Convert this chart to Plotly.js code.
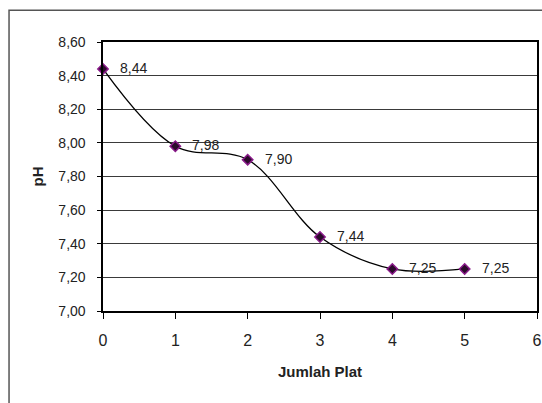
<!DOCTYPE html>
<html>
<head>
<meta charset="utf-8">
<script src="https://cdn.plot.ly/plotly-3.0.1.min.js"></script>
<style>
html,body{margin:0;padding:0;background:#fff;}
#chart{width:542px;height:403px;}
</style>
</head>
<body>
<div id="chart"></div>
<script>
const jumlahPlat = [0, 1, 2, 3, 4, 5];
const pH = [8.44, 7.98, 7.90, 7.44, 7.25, 7.25];
const yTicks = [7.0, 7.2, 7.4, 7.6, 7.8, 8.0, 8.2, 8.4, 8.6];
const xTicks = [0, 1, 2, 3, 4, 5, 6];

const FONT = '"Liberation Sans", Arial, sans-serif';

const trace = {
  x: jumlahPlat,
  y: pH,
  type: 'scatter',
  mode: 'lines+markers',
  line: {color: '#000000', width: 1.3, shape: 'spline', smoothing: 1},
  marker: {symbol: 'diamond', size: 8, color: '#2b0b2b', line: {color: '#8a1a8a', width: 1.5}},
  hoverinfo: 'skip',
  cliponaxis: false
};

const annotations = jumlahPlat.map((xv, i) => ({
  x: xv, y: pH[i], xref: 'x', yref: 'y',
  text: pH[i].toFixed(2).replace('.', ','),
  showarrow: false, xanchor: 'left', yanchor: 'middle',
  xshift: 15, yshift: 1,
  font: {family: FONT, size: 14, color: '#222'}
}));

const layout = {
  width: 542, height: 403,
  margin: {l: 103, r: 5, t: 42, b: 92},
  paper_bgcolor: '#ffffff',
  plot_bgcolor: '#ffffff',
  showlegend: false,
  separators: ',.',
  font: {family: FONT, color: '#222'},
  xaxis: {
    range: [0, 6],
    tickvals: xTicks,
    tickformat: 'd',
    showgrid: false,
    zeroline: false,
    showline: true, linecolor: '#000', linewidth: 1.6, mirror: true,
    ticks: 'outside', ticklen: 6, tickcolor: '#000', tickwidth: 1,
    ticklabelstandoff: 8,
    tickfont: {family: FONT, size: 16, color: '#222'},
    title: {text: '<b>Jumlah Plat</b>', font: {family: FONT, size: 15, color: '#222'}, standoff: 19}
  },
  yaxis: {
    range: [7.0, 8.6],
    tickvals: yTicks,
    tickformat: '.2f',
    showgrid: true, gridcolor: '#3a3a3a', gridwidth: 1,
    zeroline: false,
    showline: true, linecolor: '#000', linewidth: 1.6, mirror: true,
    ticks: 'outside', ticklen: 4, tickcolor: '#000', tickwidth: 1,
    ticklabelstandoff: 9,
    tickfont: {family: FONT, size: 14, color: '#222'},
    title: {text: '<b>pH</b>', font: {family: FONT, size: 15, color: '#222'}, standoff: 11}
  },
  annotations: annotations,
  shapes: [{
    type: 'rect', xref: 'paper', yref: 'paper',
    x0: -0.2165, x1: 1.03, y0: -0.5, y1: 1.118,
    line: {color: '#555', width: 1.5}, fillcolor: 'rgba(0,0,0,0)', layer: 'below'
  }]
};

Plotly.newPlot('chart', [trace], layout, {displayModeBar: false, staticPlot: true});
</script>
</body>
</html>
